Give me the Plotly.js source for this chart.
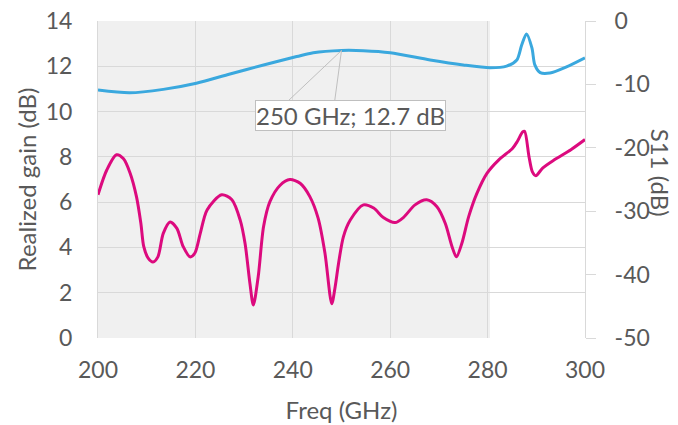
<!DOCTYPE html>
<html>
<head>
<meta charset="utf-8">
<script src="https://cdn.plot.ly/plotly-3.0.1.min.js"></script>
<style>html,body{margin:0;padding:0;background:#fff;}#chart{width:678px;height:425px;}</style>
</head>
<body>
<div id="chart"></div>
<script>
// Realized gain (left axis, dB)
const gainFreq = [200, 206.5, 213.4, 220.2, 227.1, 234, 240.8, 244.2, 250, 254.5, 260, 268.2, 275, 280.5, 283.9, 286, 287, 288, 289.1, 289.7, 290.8, 292.8, 296.2, 300];
const gainDb = [10.95, 10.83, 10.98, 11.25, 11.66, 12.06, 12.43, 12.60, 12.7, 12.69, 12.60, 12.28, 12.06, 11.94, 12.01, 12.28, 12.94, 13.43, 12.81, 12.06, 11.72, 11.70, 11.97, 12.37];

// S11 (right axis, dB)
const s11Freq = [200, 201.8, 203.8, 205.2, 206.6, 207.9, 208.8, 209.4, 210.3, 211.3, 212.3, 213.4, 214.8, 216.2, 217.5, 218.9, 219.9, 221, 222.4, 225.4, 227.5, 229.2, 230.2, 231.2, 231.9, 232.9, 234, 235.3, 237.4, 239.4, 241.5, 243.5, 245.2, 246.6, 248, 248.7, 249.4, 250.4, 251.8, 254.5, 256.6, 258.6, 261, 262.7, 265.1, 267.5, 269.6, 271.3, 272.7, 273.6, 274.7, 276.1, 277.8, 279.9, 282.3, 285.1, 286.1, 287.2, 287.6, 288.5, 289.2, 289.9, 291.3, 293.7, 297.1, 300];
const s11Db = [-27.4, -23.5, -21.1, -21.7, -24.0, -27.7, -31.9, -35.6, -37.4, -38.0, -37.2, -33.5, -31.7, -32.7, -35.6, -37.2, -36.6, -33.5, -29.8, -27.4, -28.2, -31.4, -35.1, -41.4, -44.8, -40.3, -32.4, -28.5, -25.9, -25.0, -25.6, -27.7, -31.1, -36.6, -44.6, -41.9, -38.2, -34.0, -31.4, -29.0, -29.5, -31.0, -31.8, -31.0, -29.0, -28.2, -29.3, -31.9, -35.6, -37.2, -35.1, -30.9, -27.2, -24.0, -21.9, -20.1, -19.0, -17.5, -17.4, -21.4, -23.8, -24.4, -23.2, -21.9, -20.3, -18.7];

// Tick values / labels
const xTicks = [200, 220, 240, 260, 280, 300];
const gainTicks = [0, 2, 4, 6, 8, 10, 12, 14];
const s11Ticks = [-50, -40, -30, -20, -10, 0];

// Highlighted point and shaded band
const markFreq = 250;
const markGain = 12.7;
const markLabel = '250 GHz; 12.7 dB';
const bandStart = 200;
const bandEnd = 280.5;

const FONT = 'Lato, "Open Sans", sans-serif';
const TXT = '#595959';
const GRID = '#d9d9d9';

const traces = [
  {x: gainFreq, y: gainDb, type: 'scatter', mode: 'lines', yaxis: 'y',
   line: {color: '#3aa8de', width: 3, shape: 'spline', smoothing: 0.8}, hoverinfo: 'skip'},
  {x: s11Freq, y: s11Db, type: 'scatter', mode: 'lines', yaxis: 'y2',
   line: {color: '#dc0a7e', width: 3, shape: 'spline', smoothing: 0.8}, hoverinfo: 'skip'}
];

const layout = {
  width: 678, height: 425,
  margin: {l: 98, r: 93, t: 21, b: 87, pad: 0},
  paper_bgcolor: '#fff', plot_bgcolor: '#fff',
  showlegend: false,
  font: {family: FONT, color: TXT, size: 23},
  xaxis: {
    range: [200, 300], tickvals: xTicks, ticktext: xTicks.map(String),
    showgrid: true, gridcolor: GRID, gridwidth: 1, zeroline: false,
    showline: false, ticks: '', ticklabelstandoff: 16,
    tickfont: {size: 23, color: TXT, family: FONT},
    title: {text: 'Freq (GHz)', font: {size: 24, color: TXT, family: FONT}, standoff: 20}
  },
  yaxis: {
    range: [0, 14], tickvals: gainTicks, ticktext: gainTicks.map(String),
    showgrid: true, gridcolor: GRID, gridwidth: 1, zeroline: false,
    showline: true, linecolor: GRID, linewidth: 1, ticks: '', ticklabelstandoff: 20,
    tickfont: {size: 23, color: TXT, family: FONT},
    title: {text: 'Realized gain (dB)', font: {size: 24, color: TXT, family: FONT}, standoff: 2}
  },
  yaxis2: {
    range: [-50, 0], tickvals: s11Ticks, ticktext: s11Ticks.map(String),
    overlaying: 'y', side: 'right', showgrid: false, zeroline: false,
    showline: true, linecolor: GRID, linewidth: 1,
    ticks: 'outside', ticklen: 10, tickcolor: GRID, tickwidth: 1, ticklabelstandoff: 14,
    tickfont: {size: 23, color: TXT, family: FONT}
  },
  shapes: [
    {type: 'rect', xref: 'x', yref: 'paper', x0: bandStart, x1: bandEnd, y0: 0, y1: 1,
     fillcolor: '#f0f0f0', line: {width: 0}, layer: 'below'}
  ],
  annotations: [
    {x: markFreq, y: markGain, xref: 'x', yref: 'y', text: '', showarrow: true,
     arrowhead: 0, arrowwidth: 1, arrowcolor: '#bfbfbf', ax: -55, ay: 52},
    {x: markFreq, y: markGain, xref: 'x', yref: 'y', text: '', showarrow: true,
     arrowhead: 0, arrowwidth: 1, arrowcolor: '#bfbfbf', ax: -7, ay: 52},
    {x: markFreq, y: markGain, xref: 'x', yref: 'y', text: markLabel, showarrow: true,
     arrowcolor: 'rgba(0,0,0,0)', ax: 9, ay: 65,
     bgcolor: '#ffffff', bordercolor: '#bfbfbf', borderwidth: 1, borderpad: 0,
     font: {size: 24, color: TXT, family: FONT}},
    {xref: 'paper', yref: 'paper', x: 1.155, y: 0.52, text: 'S11 (dB)', textangle: 90,
     showarrow: false, xanchor: 'center', yanchor: 'middle',
     font: {size: 24, color: TXT, family: FONT}}
  ]
};

Plotly.newPlot('chart', traces, layout, {displayModeBar: false, staticPlot: true});
</script>
</body>
</html>
